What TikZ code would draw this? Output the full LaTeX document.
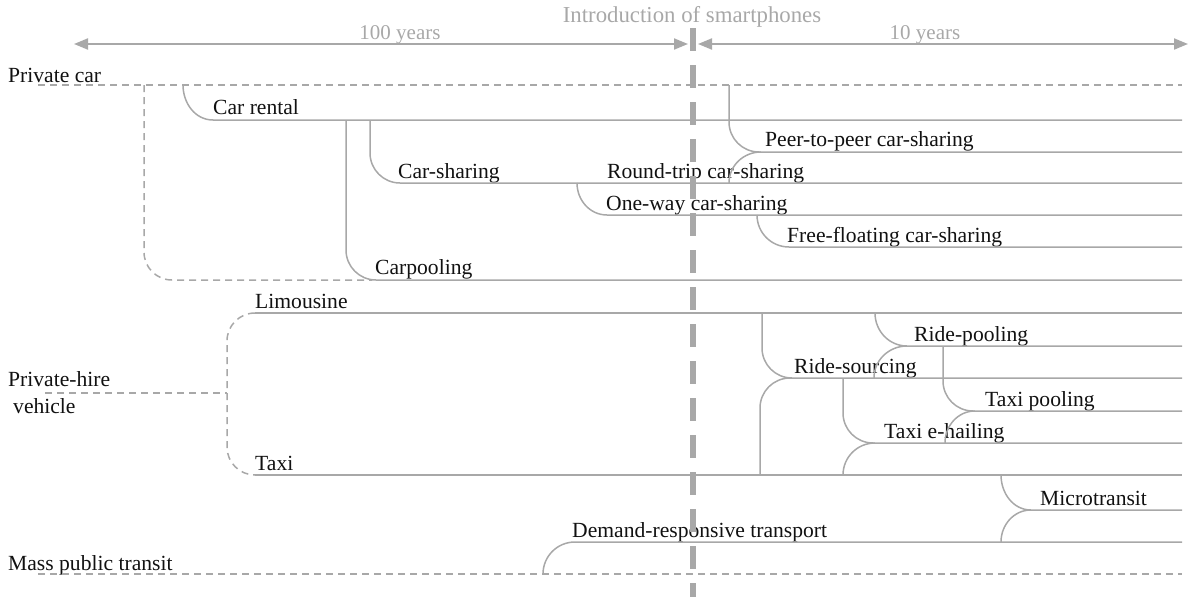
\documentclass[tikz,border=0pt]{standalone}
\usepackage{fontspec}
\setmainfont{Liberation Serif}
\usetikzlibrary{arrows.meta}
\definecolor{ln}{HTML}{A8A8A8}
\definecolor{gtext}{HTML}{A8A8A8}
\definecolor{btext}{HTML}{111111}
\begin{document}
\begin{tikzpicture}[x=1pt,y=-1pt,
  lbl/.style={anchor=base west,inner sep=0pt,text=btext,font=\fontsize{21.6}{24}\selectfont},
  glbl/.style={anchor=base,inner sep=0pt,text=gtext,font=\fontsize{21}{24}\selectfont},
  solidline/.style={draw=ln,line width=1.5pt},
  dashline/.style={draw=ln,line width=1.5pt,dash pattern=on 7pt off 5pt},
  branch/.style={solidline,rounded corners=30pt},
  arr/.style={draw=ln,line width=2pt,{Triangle[length=14pt,width=11pt]}-{Triangle[length=14pt,width=11pt]}},
  smart/.style={draw=ln,line width=5.5pt,dash pattern=on 23pt off 14pt}]
\useasboundingbox (0,0) rectangle (1192,597);
% right ends
\def\xe{1182}
% ---- labels
\node[lbl] (pcar) at (8,82) {Private car};
\node[lbl] (phv1) at (8,386) {Private-hire};
\node[lbl] (phv2) at (13,413) {vehicle};
\node[lbl] (mpt) at (8,570) {Mass public transit};
\node[lbl] (rent) at (213,114) {Car rental};
\node[lbl] (cs) at (398,178) {Car-sharing};
\node[lbl] (rt) at (607,178) {Round-trip car-sharing};
\node[lbl] (ow) at (606,210) {One-way car-sharing};
\node[lbl] (p2p) at (765,146) {Peer-to-peer car-sharing};
\node[lbl] (ff) at (787,242) {Free-floating car-sharing};
\node[lbl] (cp) at (375,274) {Carpooling};
\node[lbl] (limo) at (255,308) {Limousine};
\node[lbl] (taxi) at (255,470) {Taxi};
\node[lbl] (rp) at (914,341) {Ride-pooling};
\node[lbl] (rs) at (794,373) {Ride-sourcing};
\node[lbl] (tp) at (985,406) {Taxi pooling};
\node[lbl] (teh) at (884,438) {Taxi e-hailing};
\node[lbl] (mt) at (1040,505) {Microtransit};
\node[lbl] (drt) at (572,537) {Demand-responsive transport};
\node[glbl,font=\fontsize{22.8}{26}\selectfont] (intro) at (692,22) {Introduction of smartphones};
\node[glbl] (y100) at (400,39) {100 years};
\node[glbl] (y10) at (925,39) {10 years};
% ---- coordinates
\coordinate (pcS) at (38,85);   \coordinate (pcE) at (\xe,85);
\coordinate (loopS) at (144,85); \coordinate (loopE) at (372,280);
\coordinate (rentS) at (183,85); \coordinate (rentC) at (213,120); \coordinate (rentE) at (\xe,120);
\coordinate (csS) at (370,120);  \coordinate (csE) at (\xe,183);
\coordinate (cpS) at (346,120);  \coordinate (cpE) at (\xe,280);
\coordinate (owS) at (577,183);  \coordinate (owC) at (607,215); \coordinate (owE) at (\xe,215);
\coordinate (p2pS) at (729,85);  \coordinate (p2pE) at (\xe,152);
\coordinate (p2pM) at (729,183); \coordinate (p2pC) at (761,152);
\coordinate (ffS) at (757,215);  \coordinate (ffC) at (789,247); \coordinate (ffE) at (\xe,247);
\coordinate (limoS) at (255,313); \coordinate (limoE) at (\xe,313);
\coordinate (phvS) at (45,393); \coordinate (phvV) at (227,393);
\coordinate (taxiS) at (255,475); \coordinate (taxiE) at (\xe,475);
\coordinate (rsS) at (762,313); \coordinate (rsE) at (\xe,378);
\coordinate (rsM) at (760,475); \coordinate (rsC) at (792,378);
\coordinate (rpS) at (875,313); \coordinate (rpC) at (907,346); \coordinate (rpE) at (\xe,346);
\coordinate (rpM) at (874,378);
\coordinate (tehS) at (843,378); \coordinate (tehE) at (\xe,443);
\coordinate (tehM) at (843,475); \coordinate (tehC) at (875,443);
\coordinate (tpS) at (943,346); \coordinate (tpE) at (\xe,411);
\coordinate (tpM) at (945,443); \coordinate (tpC) at (975,411);
\coordinate (mtS) at (1001,475); \coordinate (mtC) at (1031,510); \coordinate (mtE) at (\xe,510);
\coordinate (mtM) at (1001,542);
\coordinate (drtS) at (543,574); \coordinate (drtC) at (575,542); \coordinate (drtE) at (\xe,542);
\coordinate (mptS) at (38,574); \coordinate (mptE) at (\xe,574);
\coordinate (a1L) at (74,44); \coordinate (a1R) at (688,44);
\coordinate (a2L) at (698,44); \coordinate (a2R) at (1188,44);
\coordinate (vT) at (693,28); \coordinate (vB) at (693,597);
% ---- private car family
\draw[dashline] (pcS) -- (pcE);
\draw[dashline,rounded corners=28pt] (loopS) |- (loopE);
\draw[solidline] (rentS) to[out=-90,in=180] (rentC) -- (rentE);
\draw[branch] (csS) |- (csE);
\draw[branch] (cpS) |- (cpE);
\draw[solidline] (owS) to[out=-90,in=180] (owC) -- (owE);
\draw[branch] (p2pS) |- (p2pE);
\draw[solidline] (p2pM) to[out=90,in=180] (p2pC);
\draw[solidline] (ffS) to[out=-90,in=180] (ffC) -- (ffE);
% ---- private hire family
\draw[solidline] (limoS) -- (limoE);
\draw[dashline] (phvS) -- (phvV);
\draw[dashline,rounded corners=28pt] (limoS) -| (phvV) |- (taxiS);
\draw[solidline] (taxiS) -- (taxiE);
\draw[branch] (rsS) |- (rsE);
\draw[branch] (rsM) |- (rsC);
\draw[solidline] (rpS) to[out=-90,in=180] (rpC) -- (rpE);
\draw[solidline] (rpM) to[out=90,in=180] (rpC);
\draw[branch] (tehS) |- (tehE);
\draw[solidline] (tehM) to[out=90,in=180] (tehC);
\draw[branch] (tpS) |- (tpE);
\draw[solidline] (tpM) to[out=90,in=180] (tpC);
\draw[solidline] (mtS) to[out=-90,in=180] (mtC) -- (mtE);
\draw[solidline] (mtM) to[out=90,in=180] (mtC);
% ---- mass transit
\draw[dashline] (mptS) -- (mptE);
\draw[solidline] (drtS) to[out=90,in=180] (drtC) -- (drtE);
% ---- timeline
\draw[arr] (a1L) -- (a1R);
\draw[arr] (a2L) -- (a2R);
\draw[smart] (vT) -- (vB);
\end{tikzpicture}
\end{document}
